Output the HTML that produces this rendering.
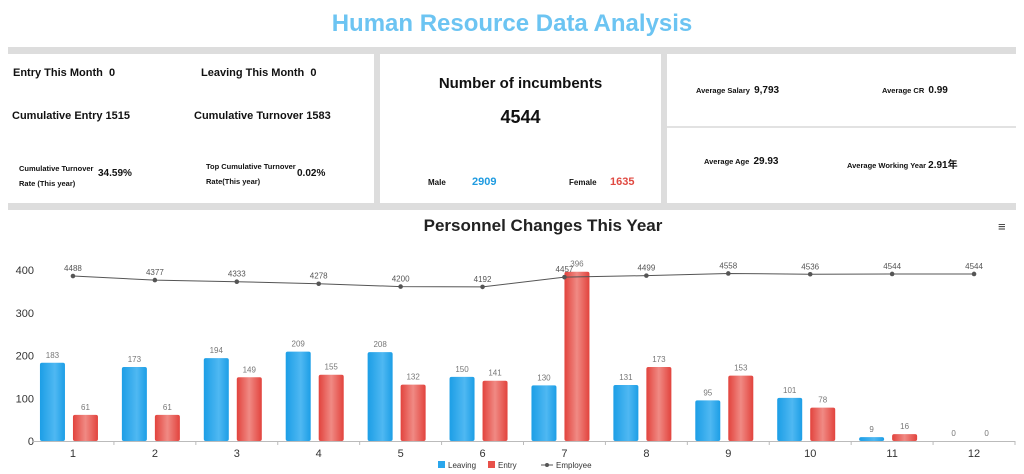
<!DOCTYPE html>
<html><head><meta charset="utf-8">
<style>
body{margin:0;width:1024px;height:474px;background:#fff;font-family:"Liberation Sans","Noto Sans CJK SC",sans-serif;overflow:hidden;position:relative}
.abs{position:absolute;white-space:nowrap}
.b{font-weight:bold;color:#111}
</style></head><body>
<div class="abs" style="left:0;width:1024px;top:10px;text-align:center;font-size:24px;font-weight:bold;color:#6cc4f2">Human Resource Data Analysis</div>
<div class="abs" style="left:8px;top:47px;width:1008px;height:7px;background:#ddd"></div>
<div class="abs" style="left:374px;top:54px;width:6px;height:150px;background:#ddd"></div>
<div class="abs" style="left:661px;top:54px;width:6px;height:150px;background:#ddd"></div>
<div class="abs" style="left:667px;top:126px;width:349px;height:2px;background:#e2e2e2"></div>
<div class="abs" style="left:8px;top:203px;width:1008px;height:7px;background:#ddd"></div>

<div class="abs b" style="left:13px;top:67px;font-size:11px">Entry This Month&nbsp; 0</div>
<div class="abs b" style="left:201px;top:67px;font-size:11px">Leaving This Month&nbsp; 0</div>
<div class="abs b" style="left:12px;top:110px;font-size:11px">Cumulative Entry 1515</div>
<div class="abs b" style="left:194px;top:110px;font-size:11px">Cumulative Turnover 1583</div>
<div class="abs b" style="left:19px;top:161px;font-size:7.5px;line-height:15px">Cumulative Turnover<br>Rate (This year)</div>
<div class="abs b" style="left:98px;top:168px;font-size:10px">34.59%</div>
<div class="abs b" style="left:206px;top:159px;font-size:7.5px;line-height:15px">Top Cumulative Turnover<br>Rate(This year)</div>
<div class="abs b" style="left:297px;top:168px;font-size:10px">0.02%</div>

<div class="abs b" style="left:380px;width:281px;top:75px;text-align:center;font-size:15px">Number of incumbents</div>
<div class="abs b" style="left:380px;width:281px;top:107px;text-align:center;font-size:18px">4544</div>
<div class="abs b" style="left:428px;top:178px;font-size:8px">Male</div>
<div class="abs" style="left:472px;top:176px;font-size:11px;font-weight:bold;color:#1f9be0">2909</div>
<div class="abs b" style="left:569px;top:178px;font-size:8px">Female</div>
<div class="abs" style="left:610px;top:176px;font-size:11px;font-weight:bold;color:#e04a42">1635</div>

<div class="abs b" style="left:696px;top:85px;font-size:7.5px">Average Salary&nbsp; <span style="font-size:10px">9,793</span></div>
<div class="abs b" style="left:882px;top:85px;font-size:7.5px">Average CR&nbsp; <span style="font-size:10px">0.99</span></div>
<div class="abs b" style="left:704px;top:156px;font-size:7.5px">Average Age&nbsp; <span style="font-size:10px">29.93</span></div>
<div class="abs b" style="left:847px;top:156px;font-size:7.5px">Average Working Year <span style="font-size:10px">2.91年</span></div>

<div class="abs b" style="left:0;width:1086px;top:216px;text-align:center;font-size:17px;color:#222">Personnel Changes This Year</div>
<div class="abs" style="left:998px;top:219px;font-size:13px;color:#333">≡</div>

<svg id="chart" class="abs" style="left:0;top:0" width="1024" height="474"></svg>
<script>
const categories=["1","2","3","4","5","6","7","8","9","10","11","12"];
const leaving=[183,173,194,209,208,150,130,131,95,101,9,0];
const entry=[61,61,149,155,132,141,396,173,153,78,16,0];
const employee=[4488,4377,4333,4278,4200,4192,4457,4499,4558,4536,4544,4544];
const yTicks=[0,100,200,300,400];
const svg=document.getElementById('chart');
const NS='http://www.w3.org/2000/svg';
const x0=32,x1=1015,yb=441,ppu=171/400;
const cw=(x1-x0)/categories.length;
const y=v=>yb-v*ppu;
const y2=v=>yb-v*0.03676;
const cx=i=>x0+cw*(i+0.5);
function mk(t,a,p){const e=document.createElementNS(NS,t);for(const k in a)e.setAttribute(k,a[k]);(p||svg).appendChild(e);return e;}
const defs=mk('defs',{});
defs.innerHTML='<linearGradient id="gb" x1="0" x2="1"><stop offset="0" stop-color="#1c9ee6"/><stop offset="0.6" stop-color="#4fb8f2"/><stop offset="1" stop-color="#1c9ee6"/></linearGradient><linearGradient id="gr" x1="0" x2="1"><stop offset="0" stop-color="#e2433d"/><stop offset="0.5" stop-color="#f08a84"/><stop offset="1" stop-color="#e2433d"/></linearGradient>';
yTicks.forEach(t=>{const e=mk('text',{x:34,y:y(t)+4,'text-anchor':'end','font-size':11,fill:'#333'});e.textContent=t;
});
const ax=mk('line',{x1:x0,x2:x1,y1:yb+0.5,y2:yb+0.5,stroke:'#bbb'});

categories.forEach((c,i)=>{
const tk=mk('line',{x1:x0+cw*(i+1),x2:x0+cw*(i+1),y1:yb,y2:yb+4,stroke:'#bbb'});

const t=mk('text',{x:cx(i),y:yb+16,'text-anchor':'middle','font-size':11,fill:'#333'});t.textContent=c;

const bw=25;
[[leaving[i],'url(#gb)',-bw-4,'bar-leaving'],[entry[i],'url(#gr)',4,'bar-entry']].forEach(([v,f,off,n])=>{
const bx=cx(i)+off-4;
if(v>0){const r=mk('rect',{x:bx,y:y(v),width:bw,height:v*ppu,rx:2,fill:f});
}
const l=mk('text',{x:bx+bw/2,y:y(v)-5,'text-anchor':'middle','font-size':8,fill:'#777'});l.textContent=v;
});
});
let d='';employee.forEach((v,i)=>{d+=(i?'L':'M')+cx(i)+','+y2(v);});
const p=mk('path',{d:d,fill:'none',stroke:'#555','stroke-width':1});

employee.forEach((v,i)=>{const c=mk('circle',{cx:cx(i),cy:y2(v),r:2.3,fill:'#555'});

const t=mk('text',{x:cx(i),y:y2(v)-5,'text-anchor':'middle','font-size':8,fill:'#555'});t.textContent=v;
});
// legend
const lg=[['#2aa6ec','Leaving',438],['#e8514a','Entry',488]];
lg.forEach(([c,n,lx])=>{const r=mk('rect',{x:lx,y:461,width:7,height:7,fill:c});

const t=mk('text',{x:lx+10,y:468,'font-size':8,fill:'#333'});t.textContent=n;
});
const ll=mk('line',{x1:541,x2:553,y1:465,y2:465,stroke:'#555'});
const lc=mk('circle',{cx:547,cy:465,r:2,fill:'#555'});
const lt=mk('text',{x:556,y:468,'font-size':8,fill:'#333'});lt.textContent='Employee';

</script>
</body></html>
